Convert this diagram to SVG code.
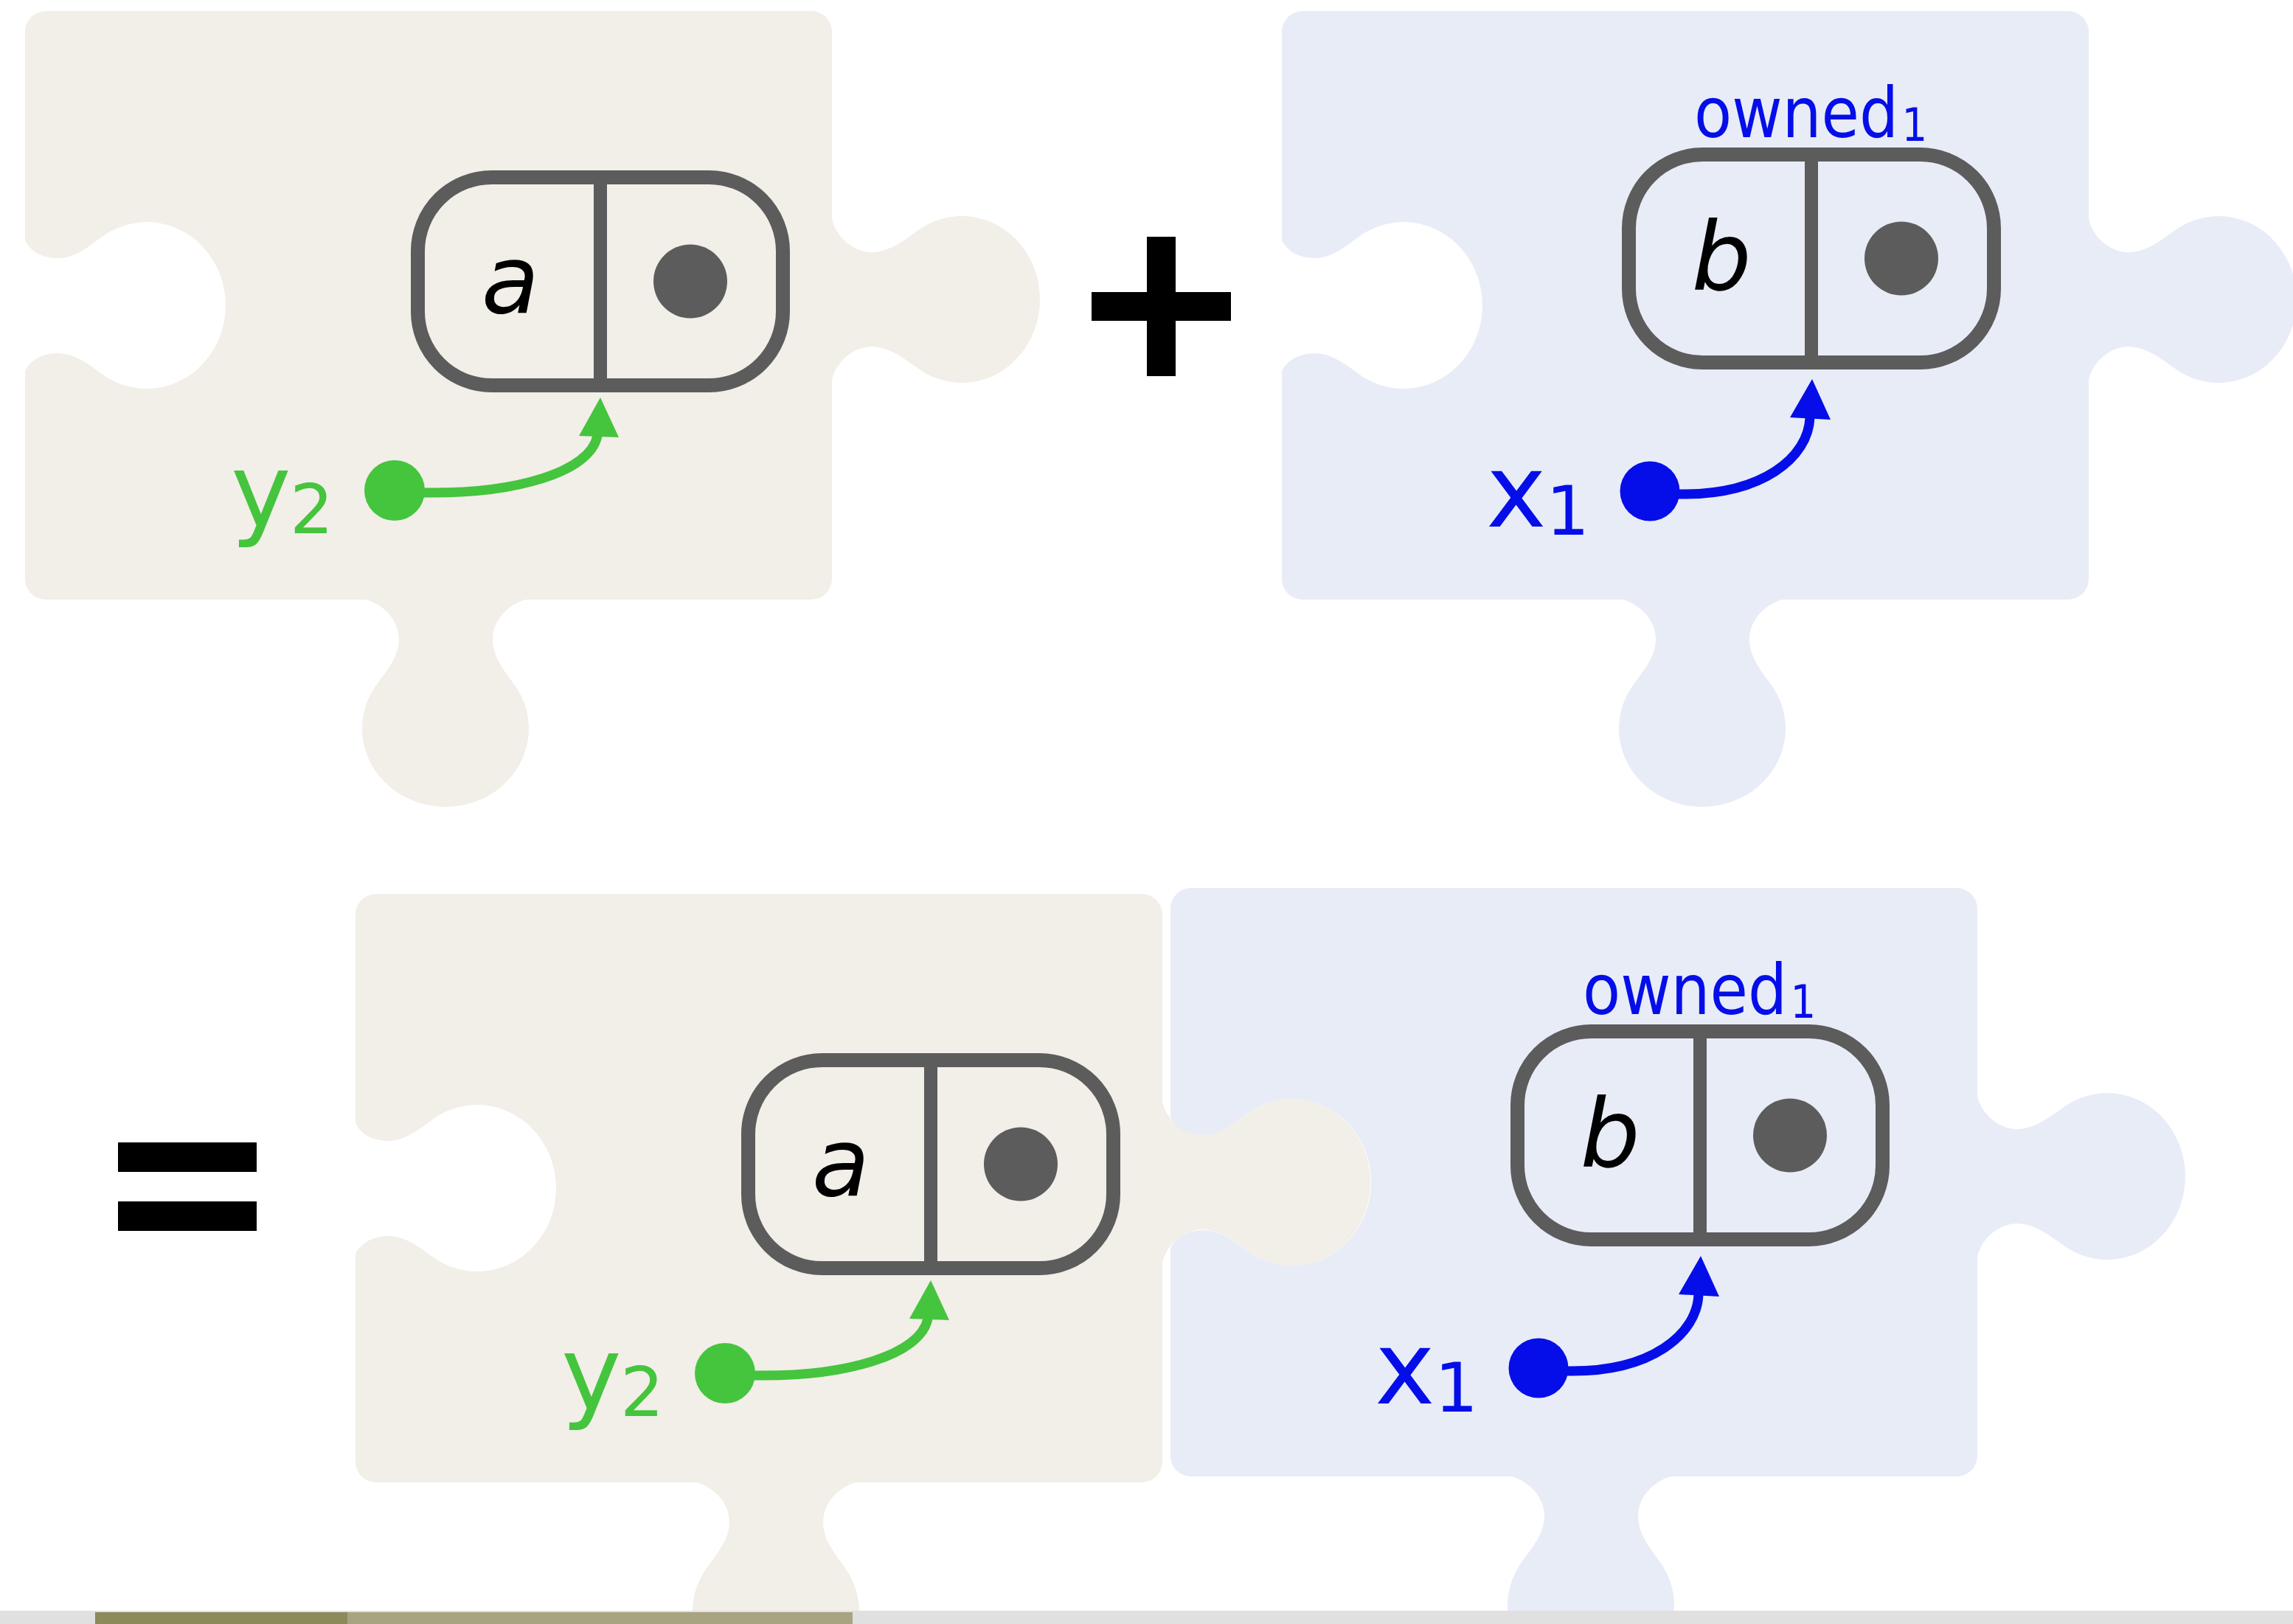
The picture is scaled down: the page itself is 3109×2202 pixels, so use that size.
<svg xmlns="http://www.w3.org/2000/svg" xmlns:xlink="http://www.w3.org/1999/xlink" width="3109" height="2202" viewBox="0 0 3109 2202">
<style>
.beige{fill:#f2eee8}
.blue{fill:#e8ecf6}
.frame{fill:none;stroke:#5c5c5c;stroke-width:19}
.div{stroke:#5c5c5c;stroke-width:18}
.val{fill:#5c5c5c}
.fld{font-family:"DejaVu Sans","Liberation Sans",sans-serif;font-style:italic;font-size:128px;fill:#000;text-anchor:middle}
.lbl{font-family:"DejaVu Sans","Liberation Sans",sans-serif;font-size:138px}
.sub{font-size:93px}
.g{fill:#45c43d}
.b{fill:#050ee8}
.own{font-family:"DejaVu Sans","Liberation Sans",sans-serif;font-size:95px;fill:#050ee8}
.gl{fill:none;stroke:#45c43d;stroke-width:13}
.bl{fill:none;stroke:#050ee8;stroke-width:13}
.op{fill:#000}
</style>
<defs>
<path id="piece" d="M 28,0 H 1066 A 28,28 0 0 1 1094,28 V 282 C 1100,308 1124,327 1148,327 C 1170,327 1190,312.7 1209.2,298.4 A 106,113 0 1 1 1209.2,483.6 C 1190,469.3 1170,455 1148,455 C 1124,455 1100,474 1094,500 V 770 A 28,28 0 0 1 1066,798 H 678 C 652,806 634,828 634,852 C 634,874 648.2,893 662.6,912.2 A 113,106 0 1 1 477.4,912.2 C 491.8,893 507,874 507,852 C 507,828 489,806 463,798 H 28 A 28,28 0 0 1 0,770 V 488 C 8,472 25,464 45,464 C 67,464 87,479.2 103.6,491.6 A 107,113 0 1 0 103.6,306.4 C 87,318.8 67,335 45,335 C 25,335 8,327 0,311 V 28 A 28,28 0 0 1 28,0 Z"/>
<g id="box">
<rect class="frame" x="9.5" y="9.5" width="495" height="282" rx="100" ry="100"/>
<line class="div" x1="257" y1="9.5" x2="257" y2="291.5"/>
<circle class="val" cx="379" cy="150.5" r="50"/>
</g>
</defs>

<g id="piece-top-left"><use xlink:href="#piece" class="beige" transform="translate(34,15)"/></g>
<g id="piece-top-right"><use xlink:href="#piece" class="blue" transform="translate(1738,15)"/></g>
<g id="piece-bottom-left"><use xlink:href="#piece" class="beige" transform="translate(482,1212)"/></g>
<g id="piece-bottom-right"><use xlink:href="#piece" class="blue" transform="translate(1587,1204)"/></g>

<g id="plus"><rect class="op" x="1555" y="321" width="39" height="189"/><rect class="op" x="1480" y="396" width="189" height="39"/></g>
<g id="equals"><rect class="op" x="160" y="1549" width="188" height="40"/><rect class="op" x="160" y="1629" width="188" height="40"/></g>

<g id="box-a-top" transform="translate(557,231)"><use xlink:href="#box"/><text class="fld" x="135" y="193">a</text></g>
<g id="box-b-top" transform="translate(2199,200)"><use xlink:href="#box"/><text class="fld" x="135" y="193">b</text></g>
<g id="box-a-bottom" transform="translate(1005,1428)"><use xlink:href="#box"/><text class="fld" x="135" y="193">a</text></g>
<g id="box-b-bottom" transform="translate(2048,1389)"><use xlink:href="#box"/><text class="fld" x="135" y="193">b</text></g>

<g id="owned-top"><text class="own" transform="translate(2297,186) scale(0.88,1)"><tspan x="0" y="0">owned</tspan><tspan x="320" y="5" font-size="62">1</tspan></text></g>
<g id="owned-bottom"><text class="own" transform="translate(2146,1375) scale(0.88,1)"><tspan x="0" y="0">owned</tspan><tspan x="320" y="5" font-size="62">1</tspan></text></g>

<g id="var-y2-top"><circle class="g" cx="535" cy="665" r="41"/><text class="lbl g"><tspan x="313" y="713">y</tspan><tspan class="sub" x="393" y="723">2</tspan></text></g>
<g id="var-x1-top"><circle class="b" cx="2237" cy="666" r="40.5"/><text class="lbl b"><tspan x="2015" y="714">x</tspan><tspan class="sub" x="2096" y="725">1</tspan></text></g>
<g id="var-y2-bottom"><circle class="g" cx="983" cy="1862" r="41"/><text class="lbl g"><tspan x="761" y="1910">y</tspan><tspan class="sub" x="841" y="1920">2</tspan></text></g>
<g id="var-x1-bottom"><circle class="b" cx="2086" cy="1855" r="40.5"/><text class="lbl b"><tspan x="1864" y="1903">x</tspan><tspan class="sub" x="1945" y="1914">1</tspan></text></g>

<g id="connectors">
<path class="gl" d="M 574,668 C 700,670 800,640 810,591"/>
<polygon class="g" points="814,539 785,591 839,593"/>
<path class="bl" d="M 2276,670 C 2390,672 2452,620 2454,566"/>
<polygon class="b" points="2457,514 2427,566 2482,569"/>
<path class="gl" d="M 1022,1865 C 1148,1867 1248,1837 1258,1788"/>
<polygon class="g" points="1262,1736 1233,1788 1287,1790"/>
<path class="bl" d="M 2125,1859 C 2239,1861 2301,1809 2303,1755"/>
<polygon class="b" points="2306,1703 2276,1755 2331,1758"/>
</g>

<g id="bottom-bar">
<rect x="0" y="2184" width="3109" height="18" fill="#e0e0e0"/>
<rect x="129" y="2186" width="342" height="16" fill="#8a8a5a"/>
<rect x="471" y="2186" width="685" height="16" fill="#a8a482"/>
</g>
</svg>
